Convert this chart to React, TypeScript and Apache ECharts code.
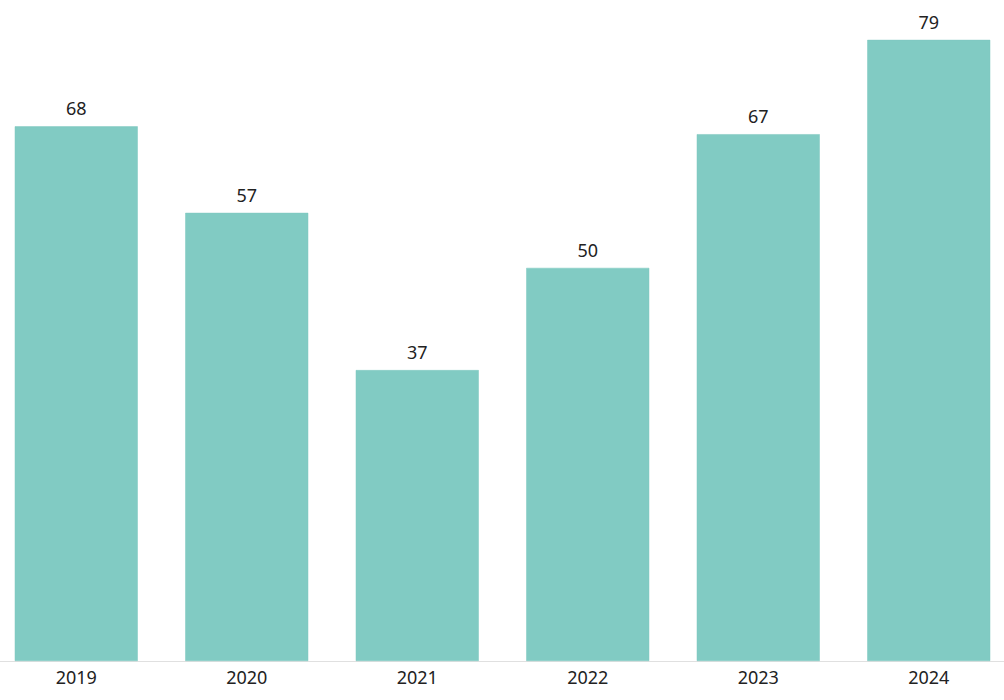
import React, { useEffect, useRef } from "react";
import * as echarts from "echarts";

const categories = ["2019", "2020", "2021", "2022", "2023", "2024"];
const values = [68, 57, 37, 50, 67, 79];

export default function App() {
  const ref = useRef<HTMLDivElement>(null);
  useEffect(() => {
    if (!ref.current) return;
    const chart = echarts.init(ref.current, null, { renderer: "svg" });
    chart.setOption({
      animation: false,
      grid: { left: 0, right: 0, top: 32, bottom: 39, containLabel: false },
      xAxis: {
        type: "category",
        data: categories,
        axisLine: { show: true, lineStyle: { color: "#e0e0e0", width: 1 } },
        axisTick: { show: false },
        axisLabel: { color: "#222", fontSize: 18, margin: 7, fontFamily: "Noto Sans" },
      },
      yAxis: {
        type: "value",
        min: 0,
        max: 80,
        show: false,
        splitLine: { show: false },
      },
      series: [
        {
          type: "bar",
          data: values,
          barWidth: 123,
          itemStyle: { color: "#81cbc3", borderColor: "#7cc7bf", borderWidth: 0.5 },
          label: {
            show: true,
            position: "top",
            distance: 9,
            color: "#222",
            fontSize: 18,
            fontFamily: "Noto Sans",
          },
        },
      ],
    });
    return () => chart.dispose();
  }, []);
  return (
    <div style={{ position: "fixed", left: 0, top: 0, width: 1004, height: 700, overflow: "hidden", background: "#fff" }}>
      <div
        ref={ref}
        style={{ position: "absolute", left: -9, top: 0, width: 1023, height: 700 }}
      />
    </div>
  );
}
